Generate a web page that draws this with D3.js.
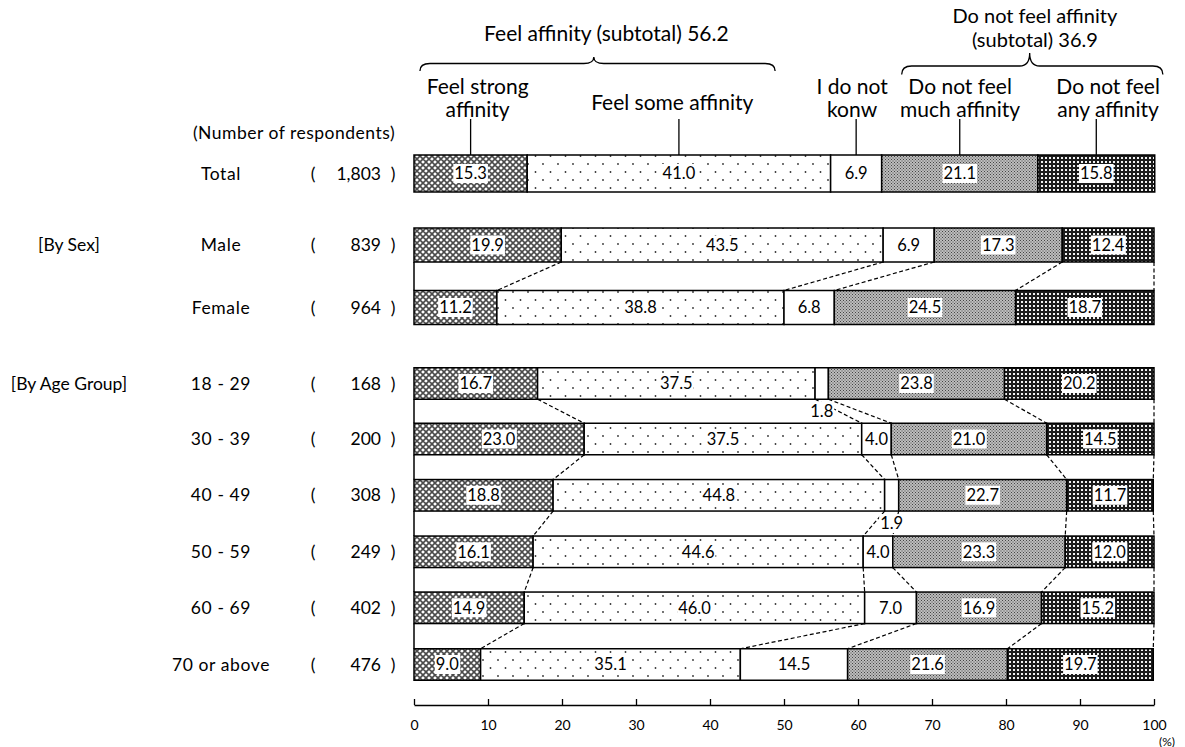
<!DOCTYPE html>
<html>
<head>
<meta charset="utf-8">
<script src="https://cdn.jsdelivr.net/npm/d3@7/dist/d3.min.js"></script>
<style>
  body { margin: 0; background: #fff; }
  svg text { font-family: Lato, "Open Sans", sans-serif; fill: #000; }
</style>
</head>
<body>
<div id="chart"></div>
<script>
// ---- data ----
const categories = ["strong", "some", "dontKnow", "much", "any"];
const categoryLabels = [["Feel strong", "affinity"], ["Feel some affinity"], ["I do not", "konw"], ["Do not feel", "much affinity"], ["Do not feel", "any affinity"]];
const rowNames = ["Total", "Male", "Female", "18 - 29", "30 - 39", "40 - 49", "50 - 59", "60 - 69", "70 or above"];
const rowGroups = ["total", "sex", "sex", "age", "age", "age", "age", "age", "age"];
const respondents = ["1,803", "839", "964", "168", "200", "308", "249", "402", "476"];
const strongVals = [15.3, 19.9, 11.2, 16.7, 23.0, 18.8, 16.1, 14.9, 9.0];
const someVals = [41.0, 43.5, 38.8, 37.5, 37.5, 44.8, 44.6, 46.0, 35.1];
const dontKnowVals = [6.9, 6.9, 6.8, 1.8, 4.0, 1.9, 4.0, 7.0, 14.5];
const muchVals = [21.1, 17.3, 24.5, 23.8, 21.0, 22.7, 23.3, 16.9, 21.6];
const anyVals = [15.8, 12.4, 18.7, 20.2, 14.5, 11.7, 12.0, 15.2, 19.7];
const groupNames = {sex: "[By Sex]", age: "[By Age Group]"};
const subtotalLabels = [["Feel affinity (subtotal) 56.2"], ["Do not feel affinity", "(subtotal) 36.9"]];
const xTicks = d3.range(0, 101, 10);

// ---- layout ----
const W = 1185, H = 747;
const x = d3.scaleLinear().domain([0, 100]).range([414, 1154]);
const rowY = d3.scaleOrdinal().domain(rowNames)
  .range([173.5, 245, 307.5, 383.5, 439, 495.3, 551.8, 607.8, 664.5]);
const barH = {total: 37, sex: 34, age: 31.5};

// label centres and braces in percent units of the x scale
const catLabelPos = [8.6, 34.9, 59.2, 73.8, 93.8];
const braces = [
  {x0: 0.8, x1: 48.8, tip: 24.3, yEnd: 71, yMid: 63.5, yTip: 57},
  {x0: 65.9, x1: 101.2, tip: 83.2, yEnd: 74.5, yMid: 66, yTip: 53}
];
const subtotalPos = [26.0, 83.9];

const table = rowNames.map((name, i) => ({
  name: name, group: rowGroups[i], n: respondents[i],
  strong: strongVals[i], some: someVals[i], dontKnow: dontKnowVals[i],
  much: muchVals[i], any: anyVals[i]
}));
const series = d3.stack().keys(categories)(table);

const svg = d3.select("#chart").append("svg")
  .attr("width", W).attr("height", H);
svg.append("rect").attr("width", W).attr("height", H).attr("fill", "#fff");

// ---- fill patterns ----
const defs = svg.append("defs");

let pStrong = defs.append("pattern").attr("id", "p-strong")
  .attr("patternUnits", "userSpaceOnUse").attr("width", 6).attr("height", 6);
pStrong.append("rect").attr("width", 6).attr("height", 6).attr("fill", "#fff");
pStrong.append("path")
  .attr("d", "M-3,3L3,-3M0,6L6,0M3,9L9,3M-3,3L3,9M0,0L6,6M3,-3L9,3")
  .attr("stroke", "#4a4a4a").attr("stroke-width", 1.6);

let pSome = defs.append("pattern").attr("id", "p-some")
  .attr("patternUnits", "userSpaceOnUse").attr("width", 15).attr("height", 16);
pSome.append("rect").attr("width", 15).attr("height", 16).attr("fill", "#fff");
pSome.append("circle").attr("cx", 3).attr("cy", 4).attr("r", 0.9).attr("fill", "#333");
pSome.append("circle").attr("cx", 10.5).attr("cy", 12).attr("r", 0.9).attr("fill", "#333");

let pMuch = defs.append("pattern").attr("id", "p-much")
  .attr("patternUnits", "userSpaceOnUse").attr("width", 3).attr("height", 3);
pMuch.append("rect").attr("width", 3).attr("height", 3).attr("fill", "#bdbdbd");
pMuch.append("rect").attr("width", 1).attr("height", 1).attr("fill", "#444");
pMuch.append("rect").attr("x", 1.5).attr("y", 1.5).attr("width", 1).attr("height", 1).attr("fill", "#444");

let pAny = defs.append("pattern").attr("id", "p-any")
  .attr("patternUnits", "userSpaceOnUse").attr("width", 4).attr("height", 4);
pAny.append("rect").attr("width", 4).attr("height", 4).attr("fill", "#1c1c1c");
pAny.append("rect").attr("x", 1).attr("y", 1).attr("width", 2).attr("height", 2).attr("fill", "#f2f2f2");

const fills = {strong: "url(#p-strong)", some: "url(#p-some)", dontKnow: "#fff", much: "url(#p-much)", any: "url(#p-any)"};

// ---- connector lines between bars of the same group ----
const conn = svg.append("g");
for (let i = 1; i < table.length; i++) {
  let a = table[i - 1], b = table[i];
  if (a.group !== b.group || a.group === "total") continue;
  let yA = rowY(a.name) + barH[a.group] / 2, yB = rowY(b.name) - barH[b.group] / 2;
  // solid left edge
  conn.append("line").attr("x1", x(0)).attr("x2", x(0)).attr("y1", yA).attr("y2", yB)
    .attr("stroke", "#000").attr("stroke-width", 1.5);
  series.forEach(s => {
    conn.append("line")
      .attr("x1", x(s[i - 1][1])).attr("y1", yA)
      .attr("x2", x(s[i][1])).attr("y2", yB)
      .attr("stroke", "#000").attr("stroke-width", 1.2)
      .attr("stroke-dasharray", "4,2.5");
  });
}

// ---- bars ----
const bars = svg.append("g");
series.forEach(s => {
  bars.selectAll(null).data(s).enter().append("rect")
    .attr("x", d => x(d[0]))
    .attr("y", d => rowY(d.data.name) - barH[d.data.group] / 2)
    .attr("width", d => x(d[1]) - x(d[0]))
    .attr("height", d => barH[d.data.group])
    .attr("fill", fills[s.key])
    .attr("stroke", "#000").attr("stroke-width", 1.5);
});

// ---- value labels with white boxes ----
const labels = svg.append("g");
series.forEach(s => {
  s.forEach((d, i) => {
    let v = d.data[s.key];
    let cx = x((d[0] + d[1]) / 2);
    let cy = rowY(d.data.name);
    if (v < 3) {
      // too narrow: put it in the gap below the bar
      let next = table[i + 1];
      cy = (rowY(d.data.name) + barH[d.data.group] / 2 + rowY(next.name) - barH[next.group] / 2) / 2;
    }
    let g = labels.append("g");
    let t = g.append("text").attr("x", cx).attr("y", cy).attr("dy", "0.36em")
      .attr("text-anchor", "middle").style("font-size", "16.5px")
      .text(v.toFixed(1));
    let bb = t.node().getBBox();
    g.insert("rect", "text")
      .attr("x", bb.x - 1).attr("y", cy - 9.5)
      .attr("width", bb.width + 2).attr("height", 19)
      .attr("fill", "#fff");
  });
});

// ---- left labels ----
const left = svg.append("g");
const fs = "17.5px";
left.append("text").attr("x", 294).attr("y", 133).attr("dy", "0.35em")
  .attr("text-anchor", "middle").style("font-size", fs).style("letter-spacing", "0.5px")
  .text("(Number of respondents)");
table.forEach(d => {
  let cy = rowY(d.name);
  left.append("text").attr("x", 221).attr("y", cy).attr("dy", "0.35em")
    .attr("text-anchor", "middle").style("font-size", fs).style("letter-spacing", "0.6px").text(d.name);
  left.append("text").attr("x", 313).attr("y", cy).attr("dy", "0.35em")
    .attr("text-anchor", "middle").style("font-size", fs).text("(");
  left.append("text").attr("x", 381).attr("y", cy).attr("dy", "0.35em")
    .attr("text-anchor", "end").style("font-size", fs).text(d.n);
  left.append("text").attr("x", 393).attr("y", cy).attr("dy", "0.35em")
    .attr("text-anchor", "middle").style("font-size", fs).text(")");
});
Object.keys(groupNames).forEach(k => {
  let first = table.find(d => d.group === k);
  left.append("text").attr("x", 69).attr("y", rowY(first.name)).attr("dy", "0.35em")
    .attr("text-anchor", "middle").style("font-size", fs).text(groupNames[k]);
});

// ---- header: category labels with leader lines ----
const head = svg.append("g");
const totalTop = rowY("Total") - barH.total / 2;
series.forEach((s, k) => {
  let lines = categoryLabels[k];
  let cx = x(catLabelPos[k]);
  lines.forEach((ln, j) => {
    head.append("text").attr("x", cx)
      .attr("y", lines.length === 1 ? 110 : 94 + j * 23)
      .attr("text-anchor", "middle").style("font-size", "21px").text(ln);
  });
  let mid = x((s[0][0] + s[0][1]) / 2);
  head.append("line").attr("x1", mid).attr("x2", mid).attr("y1", 119).attr("y2", totalTop)
    .attr("stroke", "#000").attr("stroke-width", 1.3);
});

// braces
braces.forEach((b, k) => {
  let x0 = x(b.x0), x1 = x(b.x1), tp = x(b.tip), r = 10;
  let p = d3.path();
  p.moveTo(x0, b.yEnd);
  p.quadraticCurveTo(x0, b.yMid, x0 + r, b.yMid);
  p.lineTo(tp - r, b.yMid);
  p.quadraticCurveTo(tp, b.yMid, tp, b.yTip);
  p.quadraticCurveTo(tp, b.yMid, tp + r, b.yMid);
  p.lineTo(x1 - r, b.yMid);
  p.quadraticCurveTo(x1, b.yMid, x1, b.yEnd);
  head.append("path").attr("d", p.toString()).attr("fill", "none")
    .attr("stroke", "#000").attr("stroke-width", 1.3);
  let lines = subtotalLabels[k];
  lines.forEach((ln, j) => {
    head.append("text").attr("x", x(subtotalPos[k]))
      .attr("y", lines.length === 1 ? 41 : 23 + j * 24)
      .attr("text-anchor", "middle").style("font-size", lines.length === 1 ? "21px" : "20px").text(ln);
  });
});

// ---- x axis ----
const axisG = svg.append("g").attr("transform", "translate(0,705)")
  .call(d3.axisBottom(x).tickValues(xTicks).tickSizeInner(-6).tickSizeOuter(0).tickPadding(15));
axisG.select(".domain").attr("stroke-width", 1.5);
axisG.selectAll(".tick line").attr("stroke-width", 1.3);
axisG.selectAll(".tick text").style("font-size", "14px").style("font-family", "Lato, sans-serif");
svg.append("text").attr("x", 1167).attr("y", 745.5).attr("text-anchor", "middle")
  .style("font-size", "12px").text("(%)");
</script>
</body>
</html>
